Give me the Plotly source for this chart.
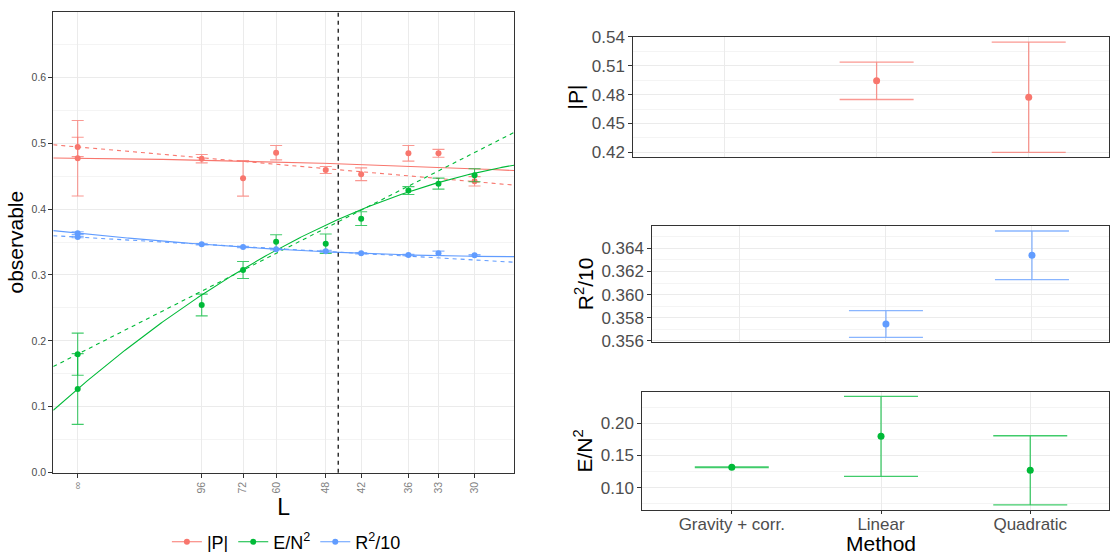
import numpy as np
import plotly.graph_objects as go

# ---------------- data ----------------
# finite lattice sizes (x axis shows 1/L, with L = infinity at 0)
L_sizes = [96, 72, 60, 48, 42, 36, 33, 30]
tick_labels_L = ["∞", "96", "72", "60", "48", "42", "36", "33", "30"]

P_vals = [0.4765, 0.4467, 0.4856, 0.4593, 0.4528, 0.4846, 0.4846, 0.4422]
P_errs = [0.0064, 0.0270, 0.0109, 0.0054, 0.0097, 0.0119, 0.0060, 0.0071]
E_vals = [0.2545, 0.3076, 0.3506, 0.3475, 0.3855, 0.4280, 0.4386, 0.4513]
E_errs = [0.0165, 0.0129, 0.0104, 0.0147, 0.0104, 0.0060, 0.0084, 0.0099]
R_vals = [0.3466, 0.3425, 0.3390, 0.3359, 0.3329, 0.3303, 0.3329, 0.3299]
R_errs = [0.0010, 0.0010, 0.0010, 0.0015, 0.0010, 0.0010, 0.0033, 0.0010]

# extrapolated (L -> infinity) estimates per method
methods = ["Gravity + corr.", "Linear", "Quadratic"]
P_ext = [None, 0.4943, 0.4772]
P_ext_err = [None, 0.0194, 0.0573]
E_ext = [0.1317, 0.1798, 0.1270]
E_ext_err = [0.0006, 0.0621, 0.0537]
R_ext = [None, 0.35745, 0.3634]
R_ext_err = [None, 0.00115, 0.0021]

# statistical error of the linear extrapolation drawn at 1/L = 0
lin_err_inf = {"P": 0.0147, "E": 0.0320, "R": 0.0009}

# fit coefficients in 1/L (intercepts are the extrapolated estimates)
lin_slope = {"P": -1.58, "E": 9.18, "R": -1.04}
quad_coef = {"P": (-0.20, -8.5), "E": (15.46, -169.0), "R": (-1.866, 24.4)}

L_marker = 45.7  # vertical reference size

# ---------------- style ----------------
cols = {"P": "#F8766D", "E": "#00BA38", "R": "#619CFF"}
err_cols = {"P": "rgba(248,118,109,0.75)", "E": "rgba(0,186,56,0.75)",
            "R": "rgba(97,156,255,0.75)"}
FONT = "Liberation Sans, Arial, sans-serif"
GRID = "#EBEBEB"
MINOR = "#F4F4F4"
FRAME = "#333333"
TICKTXT = "#4D4D4D"

x_min, x_max = -0.00205, 0.03665

fig = go.Figure()

series = {
    "P": (P_vals, P_errs, P_ext, P_ext_err),
    "E": (E_vals, E_errs, E_ext, E_ext_err),
    "R": (R_vals, R_errs, R_ext, R_ext_err),
}
inv_L = [1.0 / L for L in L_sizes]
xfit = np.linspace(x_min, x_max, 300)

for key, (vals, errs, ext, ext_err) in series.items():
    lin_a = ext[1]
    quad_a = ext[2]
    b1 = lin_slope[key]
    b2, c2 = quad_coef[key]
    # linear fit (dashed)
    fig.add_trace(go.Scatter(
        x=xfit, y=lin_a + b1 * xfit, mode="lines",
        line=dict(color=cols[key], width=1.1, dash="4px,4px"),
        showlegend=False, hoverinfo="skip", xaxis="x", yaxis="y"))
    # quadratic fit (solid)
    fig.add_trace(go.Scatter(
        x=xfit, y=quad_a + b2 * xfit + c2 * xfit ** 2, mode="lines",
        line=dict(color=cols[key], width=1.1),
        showlegend=False, hoverinfo="skip", xaxis="x", yaxis="y"))
    # finite-size measurements
    fig.add_trace(go.Scatter(
        x=inv_L, y=vals, mode="markers",
        marker=dict(color=cols[key], size=6),
        error_y=dict(type="data", array=errs, color=err_cols[key],
                     thickness=1.1, width=6),
        showlegend=False, xaxis="x", yaxis="y"))
    # extrapolated values at 1/L = 0
    fig.add_trace(go.Scatter(
        x=[0, 0], y=[ext[1], ext[2]], mode="markers",
        marker=dict(color=cols[key], size=6),
        error_y=dict(type="data", array=[lin_err_inf[key], ext_err[2]],
                     color=err_cols[key], thickness=1.1, width=6),
        showlegend=False, xaxis="x", yaxis="y"))

# legend entries
legend_names = {"P": "|P|", "E": "E/N<sup>2</sup>", "R": "R<sup>2</sup>/10"}
for key in ["P", "E", "R"]:
    fig.add_trace(go.Scatter(
        x=[None], y=[None], mode="lines+markers", name=legend_names[key],
        marker=dict(color=cols[key], size=6),
        line=dict(color=cols[key], width=1.1),
        showlegend=True, xaxis="x", yaxis="y"))

# right-hand panels: estimates per method
panel_axes = {"P": ("x2", "y2"), "R": ("x3", "y3"), "E": ("x4", "y4")}
for key, (xa, ya) in panel_axes.items():
    _, _, ext, ext_err = series[key]
    xs = [m for m, v in zip(methods, ext) if v is not None]
    ys = [v for v in ext if v is not None]
    es = [e for e in ext_err if e is not None]
    fig.add_trace(go.Scatter(
        x=xs, y=ys, mode="markers",
        marker=dict(color=cols[key], size=7),
        error_y=dict(type="data", array=es, color=err_cols[key],
                     thickness=1.3, width=37),
        showlegend=False, xaxis=xa, yaxis=ya))

# vertical reference line
fig.add_shape(type="line", x0=1.0 / L_marker, x1=1.0 / L_marker, y0=0, y1=1,
              xref="x", yref="y domain",
              line=dict(color="black", width=1.2, dash="4px,4px"))

# x-axis title of the method panels
fig.add_annotation(text="Method", x=1, xref="x4", y=1 - 543 / 552, yref="paper",
                   showarrow=False, font=dict(size=21, color="black"),
                   xanchor="center", yanchor="middle")

axis_common = dict(showline=True, linecolor=FRAME, linewidth=1, mirror=True,
                   showgrid=True, gridcolor=GRID, gridwidth=1, zeroline=False,
                   ticks="outside", ticklen=4, tickcolor=FRAME,
                   automargin=False)

fig.update_layout(
    width=1110, height=552,
    margin=dict(l=0, r=0, t=0, b=0, autoexpand=False),
    paper_bgcolor="white", plot_bgcolor="white",
    font=dict(family=FONT, color="black"),
    showlegend=True,
    legend=dict(orientation="h", x=0.258, xanchor="center", y=0.018,
                yanchor="middle", font=dict(size=18, family=FONT),
                itemwidth=30, tracegroupgap=0),
    xaxis=dict(axis_common, domain=[0.048, 0.4631], range=[x_min, x_max],
               tickmode="array", tickvals=[0] + inv_L, ticktext=tick_labels_L,
               tickangle=-90, tickfont=dict(size=10.5, color="#7F7F7F"),
               title=dict(text="L", font=dict(size=23), standoff=4),
               anchor="y"),
    yaxis=dict(axis_common, domain=[0.1437, 0.9788], range=[0, 0.6995],
               tick0=0, dtick=0.1, tickformat=".1f",
               tickfont=dict(size=10.5, color=TICKTXT),
               minor=dict(dtick=0.05, tick0=0.05, showgrid=True,
                          gridcolor=MINOR, gridwidth=1, ticks=""),
               title=dict(text="observable", font=dict(size=21), standoff=2),
               anchor="x"),
)

right_x = dict(axis_common, type="category", categoryorder="array",
               categoryarray=methods, range=[-0.6, 2.53])

fig.update_layout(
    xaxis2=dict(right_x, domain=[0.5705, 0.9994], anchor="y2",
                showticklabels=False, ticks=""),
    yaxis2=dict(axis_common, domain=[0.715, 0.9335], anchor="x2",
                range=[0.4148, 0.5402], tick0=0.42, dtick=0.03,
                tickformat=".2f", tickfont=dict(size=17, color=TICKTXT),
                minor=dict(dtick=0.015, tick0=0.405, showgrid=True,
                           gridcolor=MINOR, gridwidth=1, ticks=""),
                title=dict(text="|P|", font=dict(size=21), standoff=2)),
    xaxis3=dict(right_x, domain=[0.5877, 0.9994], anchor="y3",
                showticklabels=False, ticks=""),
    yaxis3=dict(axis_common, domain=[0.3804, 0.5911], anchor="x3",
                range=[0.35589, 0.36596], tick0=0.356, dtick=0.002,
                tickformat=".3f", tickfont=dict(size=17, color=TICKTXT),
                minor=dict(dtick=0.001, tick0=0.355, showgrid=True,
                           gridcolor=MINOR, gridwidth=1, ticks=""),
                title=dict(text="R<sup>2</sup>/10", font=dict(size=21), standoff=2)),
    xaxis4=dict(right_x, domain=[0.5786, 0.9994], anchor="y4",
                ticklen=3, ticklabelstandoff=-5,
                tickfont=dict(size=17, color=TICKTXT)),
    yaxis4=dict(axis_common, domain=[0.0755, 0.2904], anchor="x4",
                range=[0.0649, 0.2491], tick0=0.1, dtick=0.05,
                tickformat=".2f", tickfont=dict(size=17, color=TICKTXT),
                minor=dict(dtick=0.025, tick0=0.075, showgrid=True,
                           gridcolor=MINOR, gridwidth=1, ticks=""),
                title=dict(text="E/N<sup>2</sup>", font=dict(size=21), standoff=2)),
)

fig.write_html("out.html")
